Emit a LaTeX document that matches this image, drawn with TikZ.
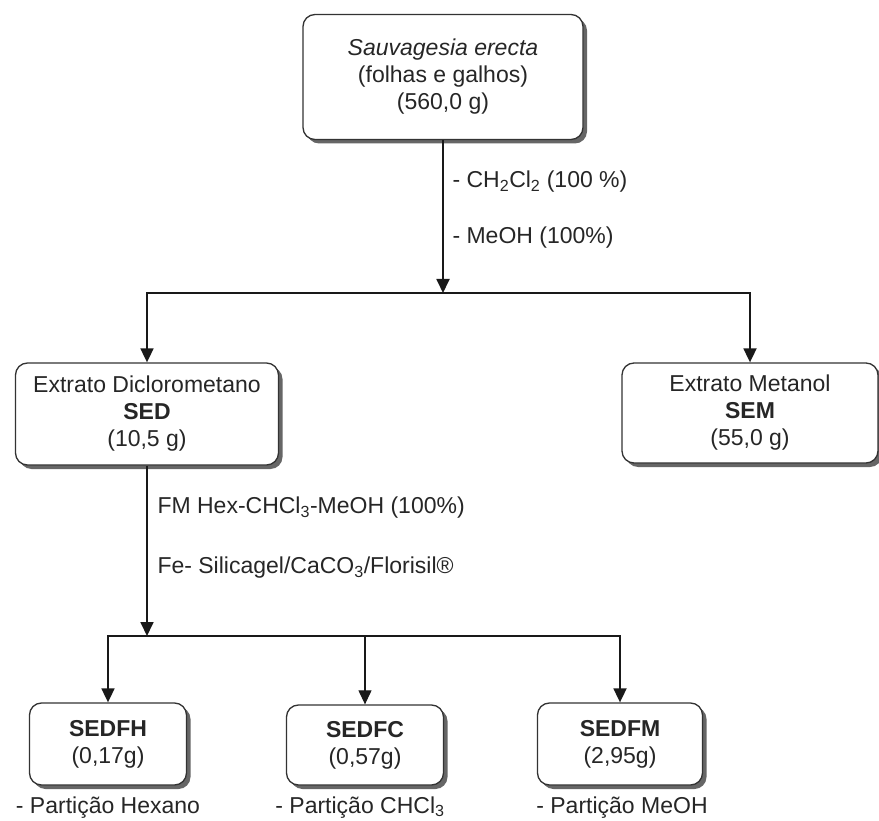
\documentclass[tikz,border=0pt]{standalone}
\usepackage{fontspec}
\setmainfont{Liberation Sans}
\usetikzlibrary{arrows.meta,shadows}

\begin{document}
\begin{tikzpicture}[x=1pt, y=-1pt,
  every node/.style={font=\fontsize{23}{27}\selectfont, text=black!85},
  caixa/.style={draw=black!80, line width=1.3pt, rounded corners=12pt, fill=white,
    align=center, inner sep=0pt,
    drop shadow={shadow xshift=4pt, shadow yshift=-4pt, fill=black!60, opacity=1}},
  seta/.style={line width=1.8pt, black!90, -{Triangle[width=13pt,length=14pt]}},
  rotulo/.style={anchor=west}]
  \useasboundingbox (0,0) rectangle (879,821);

  % Material vegetal
  \node[caixa, minimum width=280pt, minimum height=125pt] (planta) at (443,77)
    {\textit{Sauvagesia erecta}\\(folhas e galhos)\\(560,0 g)};

  % Extratos
  \node[caixa, minimum width=263pt, minimum height=102pt] (sed) at (147,414)
    {Extrato Diclorometano\\\textbf{SED}\\(10,5 g)};
  \node[caixa, minimum width=256pt, minimum height=100pt] (sem) at (750,413)
    {Extrato Metanol\\\textbf{SEM}\\(55,0 g)};

  % Particoes
  \node[caixa, minimum width=157pt, minimum height=82pt] (sedfh) at (108,744)
    {\textbf{SEDFH}\\(0,17g)};
  \node[caixa, minimum width=157pt, minimum height=80pt] (sedfc) at (365,745)
    {\textbf{SEDFC}\\(0,57g)};
  \node[caixa, minimum width=165pt, minimum height=82pt] (sedfm) at (620,744)
    {\textbf{SEDFM}\\(2,95g)};

  \node[anchor=base] (phex) at (108,813) {- Partição Hexano};
  \node[anchor=base] (pchcl) at (360,813) {- Partição CHCl\textsubscript{3}};
  \node[anchor=base] (pmeoh) at (622,813) {- Partição MeOH};

  % Extracao
  \coordinate (r1) at (443,293);
  \draw[seta] (planta) -- (r1);
  \draw[seta] (r1) -| (sed.north);
  \draw[seta] (r1) -| (sem.north);
  \node[rotulo] (ch2cl2) at (449,182) {- CH\textsubscript{2}Cl\textsubscript{2} (100 \%)};
  \node[rotulo] (meoh) at (449,238) {- MeOH (100\%)};

  % Fracionamento do SED
  \coordinate (r2) at (sed.south |- 0,636);
  \coordinate (r3) at (sedfc.north |- r2);
  \draw[seta] (sed) -- (r2);
  \draw[seta] (r2) -| (sedfh.north);
  \draw[seta] (r2) -| (sedfm.north);
  \draw[seta, line width=1.1pt] (r3) -- (sedfc);
  \node[rotulo] (fm) at (154,508) {FM Hex-CHCl\textsubscript{3}-MeOH (100\%)};
  \node[rotulo] (fe) at (154,568) {Fe- Silicagel/CaCO\textsubscript{3}/Florisil®};
\end{tikzpicture}
\end{document}
